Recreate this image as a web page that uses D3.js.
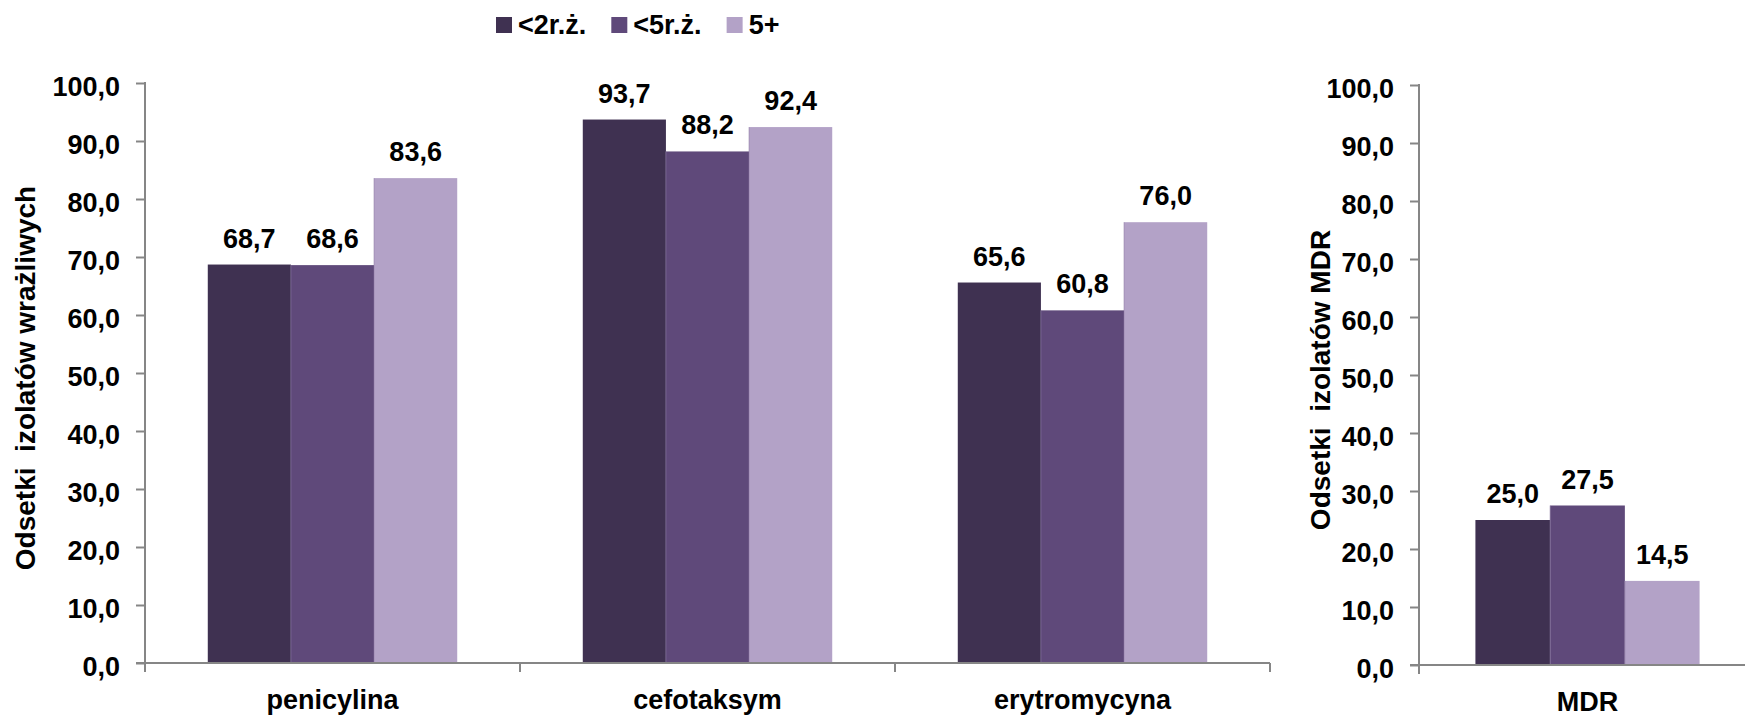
<!DOCTYPE html>
<html>
<head>
<meta charset="utf-8">
<script src="https://cdn.jsdelivr.net/npm/d3@7"></script>
<style>
  body { margin: 0; background: #fff; }
  svg text { font-family: "Liberation Sans", Arial, sans-serif; font-weight: bold; fill: #000; }
</style>
</head>
<body>
<svg id="chart"></svg>
<script>
// data
const categories = ["penicylina", "cefotaksym", "erytromycyna"]
const series = ["<2r.ż.", "<5r.ż.", "5+"]
const under2 = [68.7, 93.7, 65.6]
const under5 = [68.6, 88.2, 60.8]
const over5  = [83.6, 92.4, 76.0]
const mdrCategories = ["MDR"]
const mdrValues = [25.0, 27.5, 14.5]
const yTickValues = [0, 10, 20, 30, 40, 50, 60, 70, 80, 90, 100]

const colors = ["#3f3151", "#5f497a", "#b3a2c7"]
const axisColor = "#868686"

const width = 1745
const height = 718

const fmt = v => d3.format(".1f")(v).replace(".", ",")

const svg = d3.select("#chart")
  .attr("width", width)
  .attr("height", height)

function drawPanel(cfg) {
  const y = d3.scaleLinear().domain([0, 100]).range([cfg.y0, cfg.y1])
  const x0 = d3.scaleBand().domain(cfg.cats).range([cfg.left, cfg.right])
  const x1 = d3.scaleBand().domain(series).range([0, x0.bandwidth()])
    .paddingInner(0).paddingOuter(0.755)

  const g = svg.append("g")

  // bars
  const groups = g.selectAll("g.cat")
    .data(cfg.rows)
    .join("g")
      .attr("class", "cat")
      .attr("transform", d => `translate(${x0(d.cat)},0)`)

  groups.selectAll("rect")
    .data(d => d.values)
    .join("rect")
      .attr("x", d => x1(d.key))
      .attr("y", d => y(d.value))
      .attr("width", x1.bandwidth())
      .attr("height", d => y(0) - y(d.value))
      .attr("fill", (d, i) => colors[i])

  // thin light seams between neighbouring bars
  groups.selectAll("line.seam")
    .data(d => d.values.slice(1))
    .join("line")
      .attr("class", "seam")
      .attr("x1", d => x1(d.key)).attr("x2", d => x1(d.key))
      .attr("y1", d => y(d.value)).attr("y2", y(0))
      .attr("stroke", "#8a78a3").attr("stroke-width", 1).attr("stroke-opacity", 0.6)

  // bar labels
  groups.selectAll("text")
    .data(d => d.values)
    .join("text")
      .attr("x", d => x1(d.key) + x1.bandwidth() / 2)
      .attr("y", d => y(d.value) - 17)
      .attr("text-anchor", "middle")
      .style("font-size", "27px")
      .text(d => fmt(d.value))

  // y axis
  const yAxis = g.append("g")
    .attr("transform", `translate(${cfg.left},0)`)
    .call(d3.axisLeft(y).tickValues(yTickValues).tickSize(9).tickSizeOuter(0).tickPadding(16).tickFormat(fmt))
  yAxis.select(".domain").remove()
  yAxis.selectAll(".tick line").attr("stroke", axisColor).attr("stroke-width", 2)
  yAxis.selectAll(".tick text")
    .attr("dy", "0.48em")
    .style("font-size", "27px")
  yAxis.append("line")
    .attr("x1", 0).attr("x2", 0)
    .attr("y1", y(100) - 1).attr("y2", y(0) + 9)
    .attr("stroke", axisColor).attr("stroke-width", 2)

  // x axis
  g.append("line")
    .attr("x1", cfg.left - 9).attr("x2", cfg.right)
    .attr("y1", y(0)).attr("y2", y(0))
    .attr("stroke", axisColor).attr("stroke-width", 2)

  const bounds = cfg.cats.map(c => x0(c)).slice(1).concat(cfg.right)
  g.selectAll("line.xtick")
    .data(bounds)
    .join("line")
      .attr("class", "xtick")
      .attr("x1", d => d).attr("x2", d => d)
      .attr("y1", y(0)).attr("y2", y(0) + 9)
      .attr("stroke", axisColor).attr("stroke-width", 2)

  g.selectAll("text.cat")
    .data(cfg.cats)
    .join("text")
      .attr("class", "cat")
      .attr("x", d => x0(d) + x0.bandwidth() / 2)
      .attr("y", y(0) + 46)
      .attr("text-anchor", "middle")
      .style("font-size", "27px")
      .text(d => d)

  // axis title
  g.append("text")
    .attr("transform", `translate(${cfg.titleX},${(cfg.y0 + cfg.y1) / 2 + 5}) rotate(-90)`)
    .attr("text-anchor", "middle")
    .style("font-size", "28px")
    .style("white-space", "pre")
    .text(cfg.title)
}

drawPanel({
  cats: categories,
  rows: categories.map((c, i) => ({
    cat: c,
    values: [
      { key: series[0], value: under2[i] },
      { key: series[1], value: under5[i] },
      { key: series[2], value: over5[i] }
    ]
  })),
  left: 145, right: 1270, y0: 663, y1: 83,
  titleX: 35,
  title: "Odsetki  izolatów wrażliwych"
})

drawPanel({
  cats: mdrCategories,
  rows: mdrCategories.map(c => ({
    cat: c,
    values: series.map((s, i) => ({ key: s, value: mdrValues[i] }))
  })),
  left: 1419, right: 1756, y0: 665, y1: 85,
  titleX: 1330,
  title: "Odsetki  izolatów MDR"
})

// legend
const legend = svg.append("g").attr("transform", "translate(496,0)")
let lx = 0
series.forEach((s, i) => {
  const item = legend.append("g").attr("transform", `translate(${lx},0)`)
  item.append("rect")
    .attr("x", 0).attr("y", 17)
    .attr("width", 16).attr("height", 16)
    .attr("fill", colors[i])
  const t = item.append("text")
    .attr("x", 22).attr("y", 34)
    .style("font-size", "27px")
    .text(s)
  lx += 22 + t.node().getComputedTextLength() + 25
})
</script>
</body>
</html>
